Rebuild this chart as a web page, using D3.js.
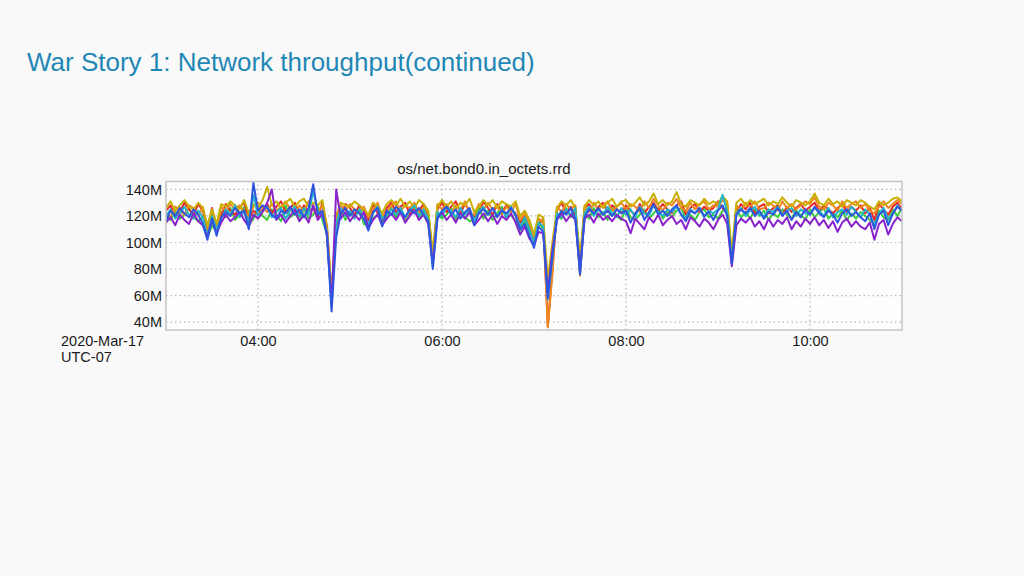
<!DOCTYPE html>
<html><head><meta charset="utf-8">
<script src="https://cdn.jsdelivr.net/npm/d3@7"></script>
<style>
html,body{margin:0;padding:0;background:#f9f9f9;}
svg{display:block;font-family:"Liberation Sans",Arial,Helvetica,sans-serif;}
</style></head>
<body>
<svg id="c" width="1024" height="576"></svg>
<script>
// ---- data (values in M octets, 3-minute samples from 03:00 to 11:00) ----
const slideTitle = "War Story 1: Network throughput(continued)";
const chartTitle = "os/net.bond0.in_octets.rrd";
const startTime = "2020-03-17T03:00:00";
const endTime = "2020-03-17T11:00:00";
const stepMinutes = 3;
const yTicks = [40, 60, 80, 100, 120, 140];
const xTickHours = [4, 6, 8, 10];
const xTickLabels = ["04:00", "06:00", "08:00", "10:00"];
const dateLabel = ["2020-Mar-17", "UTC-07"];
const seriesNames = ["green", "red", "orange", "yellow", "cyan", "purple", "blue"];
const seriesColors = ["#3ccc3c", "#e52a28", "#f0861e", "#c8b000", "#22b6c8", "#8a22cc", "#2f55e0"];

const green = [121,117,124,118,121,126,119,116,120,103,
113,108,123,119,126,117,121,127,113,118,
127,120,117,125,121,116,128,119,122,117,
125,118,121,127,117,106,56,118,125,117,
123,119,126,114,113,118,121,116,119,126,
119,125,116,121,127,118,124,119,86,122,
118,121,126,117,123,119,116,118,126,118,
124,117,122,127,118,121,116,109,117,108,
103,116,110,62,95,121,118,126,119,123,
82,123,118,126,119,123,117,126,120,117,
126,119,117,121,125,118,122,126,118,123,
119,124,126,118,121,117,123,125,119,121,
118,124,126,86,125,119,123,118,125,120,
124,117,122,119,125,121,118,124,121,117,
125,119,123,126,118,122,119,124,117,122,
118,123,120,117,114,124,119,117,125,120,126];

const red = [124,128,119,123,130,125,121,129,124,108,
126,111,120,129,124,121,127,130,118,124,
121,125,129,122,127,131,123,126,130,121,
128,123,126,119,130,112,58,112,121,129,
126,121,128,124,116,129,122,117,126,130,
123,127,130,121,126,124,129,121,88,125,
130,123,127,131,122,129,124,119,122,131,
126,121,129,123,128,125,122,115,120,111,
101,113,118,37,80,125,130,122,127,121,
78,126,129,121,127,130,123,128,125,122,
128,124,121,129,122,127,130,124,129,125,
122,128,131,121,126,129,123,127,124,126,
131,126,122,88,123,129,125,130,121,127,
129,122,126,128,121,127,123,126,129,124,
127,130,124,128,125,122,126,129,123,127,
124,128,122,126,117,129,125,121,127,130,125];

const orange = [122,119,127,124,121,128,126,120,127,110,
122,109,127,124,129,125,128,123,120,127,
130,126,123,129,124,127,131,125,122,128,
124,131,127,123,128,109,60,116,128,124,
129,125,122,127,119,124,130,120,123,128,
131,124,128,126,130,122,127,123,90,129,
125,129,122,128,125,131,122,121,129,125,
130,125,128,121,127,123,129,117,122,114,
104,118,115,36,76,127,123,129,125,128,
75,128,123,130,125,128,131,124,127,130,
125,129,127,123,131,126,133,128,124,130,
128,133,126,124,130,125,129,131,125,128,
127,132,129,87,128,124,130,127,131,125,
126,130,128,124,131,126,129,125,128,131,
129,134,127,125,130,128,124,131,126,129,
131,126,129,124,122,127,131,126,129,132,129];

const yellow = [126,131,124,128,132,127,125,130,126,113,
125,114,129,127,131,128,125,132,122,129,
126,132,142,128,131,126,130,133,127,131,
133,127,130,128,132,111,62,120,130,128,
127,131,128,125,121,130,127,122,129,132,
128,133,127,131,126,132,129,124,93,127,
132,127,131,125,130,128,133,123,127,132,
128,132,126,131,129,127,131,120,124,117,
106,121,119,72,100,126,131,128,132,126,
89,127,132,128,131,126,130,133,127,131,
132,127,130,134,128,131,137,129,132,128,
131,138,129,127,132,130,128,133,129,131,
129,135,131,92,130,133,128,132,129,131,
133,128,131,129,134,130,127,132,130,128,
131,137,130,128,133,129,131,127,132,130,
128,132,130,127,125,131,128,130,133,134,131];

const cyan = [120,125,118,122,127,121,118,124,119,105,
120,110,118,125,121,128,119,123,116,136,
120,124,127,119,123,126,118,124,127,120,
126,121,139,124,119,108,52,114,126,120,
124,118,125,121,114,122,127,118,121,125,
121,126,119,124,128,120,125,118,82,123,
120,127,124,119,126,121,125,117,123,127,
121,126,120,125,119,127,121,112,119,110,
100,115,112,57,88,122,119,125,121,126,
76,122,127,120,125,121,127,122,119,126,
121,125,119,127,122,120,128,123,120,125,
123,127,121,119,125,122,126,119,124,122,
125,136,123,84,122,126,120,124,127,121,
120,125,123,127,121,124,126,120,125,122,
121,126,124,120,126,119,123,125,121,127,
123,119,125,121,113,122,126,118,121,128,124];

const purple = [115,119,113,121,117,114,122,116,113,104,
117,107,115,121,116,119,123,117,112,121,
118,123,130,140,117,121,115,120,125,116,
121,115,128,117,122,106,53,140,118,123,
116,121,117,123,111,117,121,113,118,122,
117,123,115,120,124,117,121,114,84,118,
123,117,121,115,122,118,123,113,117,122,
116,121,114,120,117,122,115,106,112,103,
98,108,107,62,94,117,122,116,121,117,
80,118,121,115,122,117,120,116,121,118,
116,107,118,114,110,119,115,121,113,117,
120,114,117,110,119,116,112,118,115,110,
117,121,114,82,113,118,115,119,112,116,
110,118,112,117,114,119,110,116,112,118,
114,119,113,117,111,116,108,115,118,112,
116,112,110,115,102,114,117,106,114,119,116];

const blue = [116,124,120,126,122,119,125,121,114,102,
118,105,119,123,120,126,122,124,110,145,
124,128,126,121,118,124,122,127,121,125,
119,126,144,121,124,104,48,104,122,126,
120,125,122,118,109,123,126,112,124,121,
127,123,119,125,122,126,121,116,80,118,
124,127,121,125,118,123,126,113,122,125,
121,126,119,124,122,126,120,110,114,105,
96,112,108,58,90,118,124,121,126,117,
76,119,125,122,126,121,124,120,125,122,
124,115,122,126,117,123,129,121,124,120,
125,128,121,116,124,122,126,120,123,117,
124,128,120,84,121,125,122,126,120,124,
118,123,121,126,120,124,117,123,119,125,
121,127,122,119,124,121,115,122,125,120,
123,119,116,122,110,121,124,113,122,127,124];

const seriesValues = [green, red, orange, yellow, cyan, purple, blue];

// ---- drawing ----
const svg = d3.select("#c");
svg.append("rect").attr("width",1024).attr("height",576).attr("fill","#f9f9f9");

svg.append("text").attr("x",27).attr("y",71)
  .attr("font-size",26).attr("fill","#1f87b6").text(slideTitle);

const t0 = new Date(startTime), t1 = new Date(endTime);
const x = d3.scaleTime().domain([t0, t1]).range([166, 902]);
const y = d3.scaleLinear().domain([34, 146]).range([330, 181.5]);

const plot = svg.append("g");
plot.append("rect").attr("x",x.range()[0]).attr("y",y.range()[1])
  .attr("width",x.range()[1]-x.range()[0]).attr("height",y.range()[0]-y.range()[1])
  .attr("fill","#fdfdfd");

// grid
const xTicks = xTickHours.map(h => new Date(t0.getTime() + (h-3)*3600e3));
plot.selectAll(".hg").data(yTicks).join("line")
  .attr("x1",x.range()[0]).attr("x2",x.range()[1])
  .attr("y1",d=>y(d)).attr("y2",d=>y(d))
  .attr("stroke","#b8b8b8").attr("stroke-width",1.2).attr("stroke-dasharray","1.5,3");
plot.selectAll(".vg").data(xTicks).join("line")
  .attr("x1",d=>x(d)).attr("x2",d=>x(d))
  .attr("y1",y.range()[0]).attr("y2",y.range()[1])
  .attr("stroke","#b8b8b8").attr("stroke-width",1.2).attr("stroke-dasharray","1.5,3");

svg.append("clipPath").attr("id","clip").append("rect")
  .attr("x",x.range()[0]).attr("y",y.range()[1])
  .attr("width",x.range()[1]-x.range()[0]).attr("height",y.range()[0]-y.range()[1]);

const line = d3.line()
  .x((d,i)=>x(new Date(t0.getTime()+i*stepMinutes*60e3)))
  .y(d=>y(d));

plot.append("g").attr("clip-path","url(#clip)")
  .selectAll("path").data(seriesValues).join("path")
  .attr("d", d=>line(d)).attr("fill","none")
  .attr("stroke",(d,i)=>seriesColors[i]).attr("stroke-width",2)
  .attr("stroke-linejoin","round");

// frame
plot.append("rect").attr("x",x.range()[0]).attr("y",y.range()[1])
  .attr("width",x.range()[1]-x.range()[0]).attr("height",y.range()[0]-y.range()[1])
  .attr("fill","none").attr("stroke","#c4c4c4").attr("stroke-width",1.5);

// axes
const yAxis = d3.axisLeft(y).tickValues(yTicks).tickFormat(d=>d+"M").tickSize(0).tickPadding(4);
const gy = svg.append("g").attr("transform",`translate(${x.range()[0]},0)`).call(yAxis);
gy.select(".domain").remove();
gy.selectAll("text").attr("font-size",14.5).attr("fill","#1a1a1a")
  .attr("font-family","'Liberation Sans',Arial,sans-serif");

const xAxis = d3.axisBottom(x).tickValues(xTicks).tickFormat((d,i)=>xTickLabels[i]).tickSize(0).tickPadding(6);
const gx = svg.append("g").attr("transform",`translate(0,${y.range()[0]})`).call(xAxis);
gx.select(".domain").remove();
gx.selectAll("text").attr("font-size",14.5).attr("fill","#1a1a1a")
  .attr("font-family","'Liberation Sans',Arial,sans-serif");

svg.append("text").attr("x",61).attr("y",346).attr("font-size",14.5).attr("fill","#1a1a1a").text(dateLabel[0]);
svg.append("text").attr("x",61).attr("y",362).attr("font-size",14.5).attr("fill","#1a1a1a").text(dateLabel[1]);

svg.append("text").attr("x",484).attr("y",174).attr("text-anchor","middle")
  .attr("font-size",15).attr("fill","#1a1a1a").text(chartTitle);
</script>
</body></html>
